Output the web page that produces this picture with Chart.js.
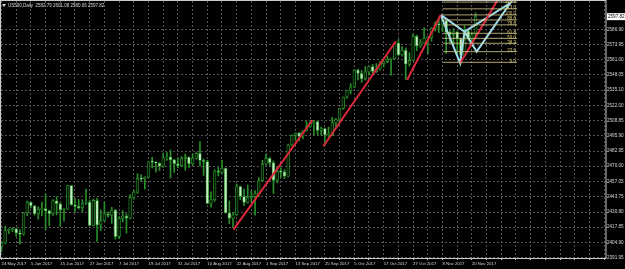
<!DOCTYPE html>
<html>
<head>
<meta charset="utf-8">
<script src="https://cdn.jsdelivr.net/npm/chart.js@4.4.0/dist/chart.umd.min.js"></script>
<style>
  html, body { margin: 0; padding: 0; background: #000; }
  #wrap { position: relative; width: 625px; height: 269px; }
</style>
</head>
<body>
<div id="wrap"><canvas id="chart" width="625" height="269"></canvas></div>
<script>
// US500, Daily — one bar per weekday, 24 May 2017 .. 21 Nov 2017
const dateTicks = ['24 May 2017', '5 Jun 2017', '15 Jun 2017', '27 Jun 2017', '7 Jul 2017',
    '19 Jul 2017', '31 Jul 2017', '10 Aug 2017', '22 Aug 2017', '1 Sep 2017', '13 Sep 2017',
    '25 Sep 2017', '5 Oct 2017', '17 Oct 2017', '27 Oct 2017', '8 Nov 2017', '20 Nov 2017'];

const priceTicks = [2391.95, 2404.90, 2417.85, 2430.80, 2443.75, 2457.05, 2470.00, 2482.95,
    2495.90, 2508.85, 2522.00, 2535.10, 2548.05, 2561.00, 2573.95, 2586.90];

const opens = [
    2401.5, 2404.4, 2415.1, 2415.8, 2416.5, 2412.9, 2411.8, 2430.1, 2439.1, 2436.1,
    2429.3, 2433.1, 2433.8, 2431.8, 2429.4, 2440.4, 2437.9, 2432.5, 2433.2, 2453.5,
    2437.0, 2435.6, 2434.5, 2438.3, 2439.1, 2419.4, 2440.7, 2419.7, 2423.4, 2429.0,
    2428.0, 2432.5, 2409.8, 2425.2, 2427.4, 2425.5, 2443.3, 2447.8, 2459.3, 2459.1,
    2460.6, 2473.8, 2473.5, 2472.5, 2469.9, 2477.1, 2477.8, 2475.4, 2472.1, 2470.3,
    2476.4, 2477.6, 2472.2, 2476.8, 2480.9, 2474.9, 2474.0, 2438.2, 2441.3, 2465.8,
    2464.6, 2468.1, 2430.0, 2425.6, 2428.4, 2452.5, 2444.0, 2439.0, 2443.1, 2444.2,
    2446.3, 2457.6, 2471.7, 2476.6, 2473.0, 2457.9, 2465.5, 2465.1, 2461.4, 2488.1,
    2496.5, 2498.4, 2495.6, 2500.2, 2503.9, 2506.7, 2508.2, 2500.6, 2502.2, 2496.7,
    2496.8, 2507.0, 2510.1, 2519.4, 2529.1, 2534.6, 2537.7, 2552.1, 2549.3, 2544.7,
    2550.6, 2555.2, 2550.9, 2553.2, 2557.6, 2559.4, 2561.3, 2562.1, 2575.2, 2565.0,
    2569.1, 2557.2, 2560.4, 2581.1, 2572.8, 2575.3, 2579.4, 2579.9, 2587.8, 2591.1,
    2590.6, 2594.4, 2584.6, 2582.3, 2584.8, 2578.9, 2564.6, 2585.6, 2578.9, 2582.79];

const highs = [
    2405.6, 2418.7, 2416.7, 2417.5, 2417.0, 2415.9, 2430.5, 2440.2, 2439.5, 2436.5,
    2435.3, 2439.3, 2446.2, 2432.5, 2441.5, 2443.8, 2438.5, 2434.0, 2453.8, 2453.5,
    2442.2, 2441.6, 2441.4, 2450.4, 2441.0, 2442.0, 2442.7, 2432.7, 2439.2, 2431.0,
    2434.8, 2433.0, 2426.9, 2432.0, 2429.3, 2445.8, 2449.3, 2463.5, 2462.8, 2460.9,
    2473.8, 2477.6, 2474.0, 2473.1, 2481.2, 2481.7, 2484.0, 2476.0, 2477.0, 2478.5,
    2480.4, 2478.0, 2480.4, 2481.5, 2490.9, 2476.0, 2475.0, 2448.1, 2467.0, 2468.9,
    2474.9, 2468.5, 2440.3, 2430.6, 2454.8, 2453.0, 2450.4, 2453.9, 2449.1, 2449.2,
    2460.3, 2475.0, 2480.4, 2477.5, 2474.5, 2469.6, 2468.6, 2467.1, 2488.9, 2496.8,
    2498.4, 2498.8, 2500.5, 2508.3, 2507.8, 2508.9, 2508.5, 2503.5, 2502.5, 2503.5,
    2511.8, 2510.8, 2519.4, 2529.2, 2535.1, 2540.5, 2552.5, 2553.0, 2551.8, 2555.2,
    2555.5, 2557.0, 2557.7, 2559.5, 2560.0, 2564.1, 2562.4, 2575.4, 2578.3, 2572.2,
    2571.0, 2567.1, 2583.0, 2582.0, 2578.3, 2588.4, 2581.1, 2588.4, 2593.4, 2597.0,
    2595.5, 2594.5, 2586.0, 2587.7, 2585.0, 2579.0, 2590.1, 2586.0, 2584.6, 2601.08];

const lows = [
    2397.0, 2403.5, 2412.2, 2414.0, 2410.2, 2403.6, 2411.0, 2427.7, 2434.3, 2428.1,
    2424.8, 2427.4, 2415.7, 2419.0, 2428.0, 2428.3, 2418.5, 2422.9, 2433.0, 2436.6,
    2430.7, 2433.3, 2431.1, 2437.0, 2419.4, 2419.0, 2405.7, 2415.0, 2423.0, 2426.5,
    2421.1, 2407.7, 2408.0, 2422.3, 2412.8, 2425.0, 2441.7, 2446.7, 2457.2, 2450.3,
    2460.0, 2468.4, 2465.1, 2466.3, 2469.0, 2474.9, 2459.9, 2464.7, 2468.5, 2469.5,
    2466.5, 2468.9, 2471.0, 2475.9, 2470.3, 2462.1, 2437.8, 2435.0, 2440.0, 2461.6,
    2463.5, 2430.0, 2420.7, 2417.4, 2428.0, 2441.4, 2436.2, 2438.5, 2439.0, 2428.2,
    2443.8, 2457.0, 2471.0, 2470.5, 2446.6, 2456.0, 2460.3, 2459.4, 2461.0, 2487.5,
    2492.1, 2491.8, 2493.2, 2499.9, 2503.2, 2496.7, 2497.0, 2496.5, 2488.0, 2495.1,
    2495.9, 2502.9, 2507.8, 2518.5, 2528.0, 2531.8, 2537.0, 2543.8, 2541.6, 2543.5,
    2547.9, 2548.3, 2550.0, 2552.0, 2554.7, 2558.5, 2547.9, 2561.5, 2564.3, 2564.0,
    2544.0, 2555.5, 2560.0, 2568.7, 2571.5, 2574.9, 2566.2, 2576.8, 2585.7, 2584.1,
    2585.0, 2566.3, 2575.6, 2573.0, 2566.6, 2557.5, 2564.0, 2577.6, 2574.0, 2580.06];

const closes = [
    2404.4, 2415.1, 2415.8, 2416.5, 2412.9, 2411.8, 2430.1, 2439.1, 2436.1, 2429.3,
    2433.1, 2433.8, 2431.8, 2429.4, 2440.4, 2437.9, 2432.5, 2433.2, 2453.5, 2437.0,
    2435.6, 2434.5, 2438.3, 2439.1, 2419.4, 2440.7, 2419.7, 2423.4, 2429.0, 2428.0,
    2432.5, 2409.8, 2425.2, 2427.4, 2425.5, 2443.3, 2447.8, 2459.3, 2459.1, 2460.6,
    2473.8, 2473.5, 2472.5, 2469.9, 2477.1, 2477.8, 2475.4, 2472.1, 2470.3, 2476.4,
    2477.6, 2472.2, 2476.8, 2480.9, 2474.9, 2474.0, 2438.2, 2441.3, 2465.8, 2464.6,
    2468.1, 2430.0, 2425.6, 2428.4, 2452.5, 2444.0, 2439.0, 2443.1, 2444.2, 2446.3,
    2457.6, 2471.7, 2476.6, 2473.0, 2457.9, 2465.5, 2465.1, 2461.4, 2488.1, 2496.5,
    2498.4, 2495.6, 2500.2, 2503.9, 2506.7, 2508.2, 2500.6, 2502.2, 2496.7, 2496.8,
    2507.0, 2510.1, 2519.4, 2529.1, 2534.6, 2537.7, 2552.1, 2549.3, 2544.7, 2550.6,
    2555.2, 2550.9, 2553.2, 2557.6, 2559.4, 2561.3, 2562.1, 2575.2, 2565.0, 2569.1,
    2557.2, 2560.4, 2581.1, 2572.8, 2575.3, 2579.4, 2579.9, 2587.8, 2591.1, 2590.6,
    2594.4, 2584.6, 2582.3, 2584.8, 2578.9, 2564.6, 2585.6, 2578.9, 2582.1, 2597.82];

// red trend lines: [bar, price] -> [bar, price]
const trendLines = [
    [[63.1, 2415.8], [84.6, 2509.5]],
    [[87.6, 2487.0], [107.3, 2576.8]],
    [[110.4, 2543.9], [119.5, 2599.3]],
    [[124.8, 2558.0], [135.0, 2612.1]]
];

// harmonic pattern X A B C D, drawn as two triangles
const patternXAB = [[119.5, 2599.3], [124.8, 2558.0], [126.0, 2585.0], [119.5, 2599.3]];
const patternBCD = [[126.0, 2585.0], [129.3, 2567.9], [138.4, 2609.3], [126.0, 2585.0]];

// fibo levels
const fibLabels = ['127.2', '113.0', '100.0', '88.6', '78.6', '61.8', '50.0', '38.2', '23.6', '0.0'];
const fibPrices = [2610.3, 2604.5, 2599.3, 2595.0, 2590.8, 2583.6, 2579.3, 2575.1, 2567.9, 2558.8];
const fibFrom = 120.1, fibTo = 140.3;

const header = 'US500,Daily  2582.79 2601.08 2580.06 2597.82';
const lastPrice = 2597.82;

const FONT = 'Liberation Sans';
const TXT = '#d8d8d8';
const GRID = '#545454';
const WICK = '#2a8f2a';

const toXY = pts => pts.map(p => ({ x: p[0], y: p[1] }));
const lineDs = (pts, color, width) => ({
    type: 'line', data: toXY(pts), borderColor: color, borderWidth: width,
    pointRadius: 0, fill: false, tension: 0, order: 0
});

const datasets = [
    {
        label: 'wicks', data: highs.map((h, i) => ({ x: i, y: [lows[i], h] })),
        backgroundColor: WICK, barThickness: 1, grouped: false, order: 3
    },
    {
        label: 'bodies', data: closes.map((c, i) => ({ x: i, y: [opens[i], c] })),
        backgroundColor: ctx => closes[ctx.dataIndex] >= opens[ctx.dataIndex] ? '#041804' : '#c6eec6',
        borderColor: WICK, borderWidth: 0.8, borderSkipped: false,
        barThickness: 2.8, minBarLength: 1, grouped: false, order: 2
    }
];
fibPrices.forEach(p => datasets.push(lineDs([[fibFrom, p], [fibTo, p]], 'rgba(214,204,140,0.8)', 1)));
trendLines.forEach(t => datasets.push(lineDs(t, '#e0283c', 2)));
datasets.push(lineDs(patternXAB, '#9fdcec', 2));
datasets.push(lineDs(patternBCD, '#9fdcec', 2));

const overlay = {
    id: 'overlay',
    afterDraw(chart) {
        const { ctx, chartArea: ca, scales } = chart;
        ctx.save();
        // frame
        ctx.strokeStyle = '#c8c8c8';
        ctx.lineWidth = 1;
        ctx.strokeRect(0.5, 0.5, ca.right - 0.5, ca.bottom);
        // header
        ctx.fillStyle = TXT;
        ctx.beginPath();
        ctx.moveTo(2, 4); ctx.lineTo(6, 4); ctx.lineTo(4, 7); ctx.closePath(); ctx.fill();
        ctx.font = '4.5px "' + FONT + '"';
        ctx.textBaseline = 'middle';
        ctx.textAlign = 'left';
        ctx.fillText(header, 8, 5.5);
        // fibo labels
        ctx.fillStyle = '#d8c878';
        ctx.textAlign = 'right';
        ctx.textBaseline = 'bottom';
        const xr = scales.x.getPixelForValue(fibTo);
        fibPrices.forEach((p, i) => {
            ctx.fillText(fibLabels[i], xr - 1, scales.y.getPixelForValue(p) + 1.5);
        });
        // last price tag
        const yp = scales.y.getPixelForValue(lastPrice);
        ctx.font = '4.6px "' + FONT + '"';
        ctx.fillStyle = '#ffffff';
        ctx.fillRect(ca.right + 1, yp - 3.5, 18, 7);
        ctx.fillStyle = '#000000';
        ctx.textAlign = 'left';
        ctx.textBaseline = 'middle';
        ctx.fillText(lastPrice.toFixed(2), ca.right + 2, yp + 0.3);
        ctx.restore();
    }
};

new Chart(document.getElementById('chart'), {
    type: 'bar',
    data: { datasets },
    options: {
        responsive: false,
        animation: false,
        layout: { padding: { left: 1, top: 1, right: 0, bottom: 0 } },
        plugins: { legend: { display: false }, tooltip: { enabled: false } },
        scales: {
            x: {
                type: 'linear', min: -0.136, max: 164.49, offset: false,
                afterBuildTicks: s => {
                    const t = [];
                    for (let v = 0; v <= 164; v += 4) t.push({ value: v });
                    s.ticks = t;
                },
                afterFit: s => { s.height = 11; s.paddingLeft = 0; s.paddingRight = 0; },
                grid: { color: GRID, offset: false, tickLength: 2, tickColor: '#c8c8c8' },
                border: { display: false, dash: [2, 2] },
                ticks: {
                    color: TXT, align: 'start', maxRotation: 0, autoSkip: false, padding: 1,
                    font: { family: FONT, size: 4.3 },
                    callback: v => (v % 8 === 0 && v / 8 < dateTicks.length) ? dateTicks[v / 8] : ''
                }
            },
            y: {
                position: 'right', min: 2391.5, max: 2611.2,
                afterBuildTicks: s => { s.ticks = priceTicks.map(v => ({ value: v })); },
                afterFit: s => { s.width = 19; s.paddingTop = 0; s.paddingBottom = 0; },
                grid: { color: GRID, drawTicks: false },
                border: { display: false, dash: [2, 2] },
                ticks: {
                    color: TXT, padding: 1, font: { family: FONT, size: 4.6 },
                    callback: v => v.toFixed(2)
                }
            }
        }
    },
    plugins: [overlay]
});
</script>
</body>
</html>
